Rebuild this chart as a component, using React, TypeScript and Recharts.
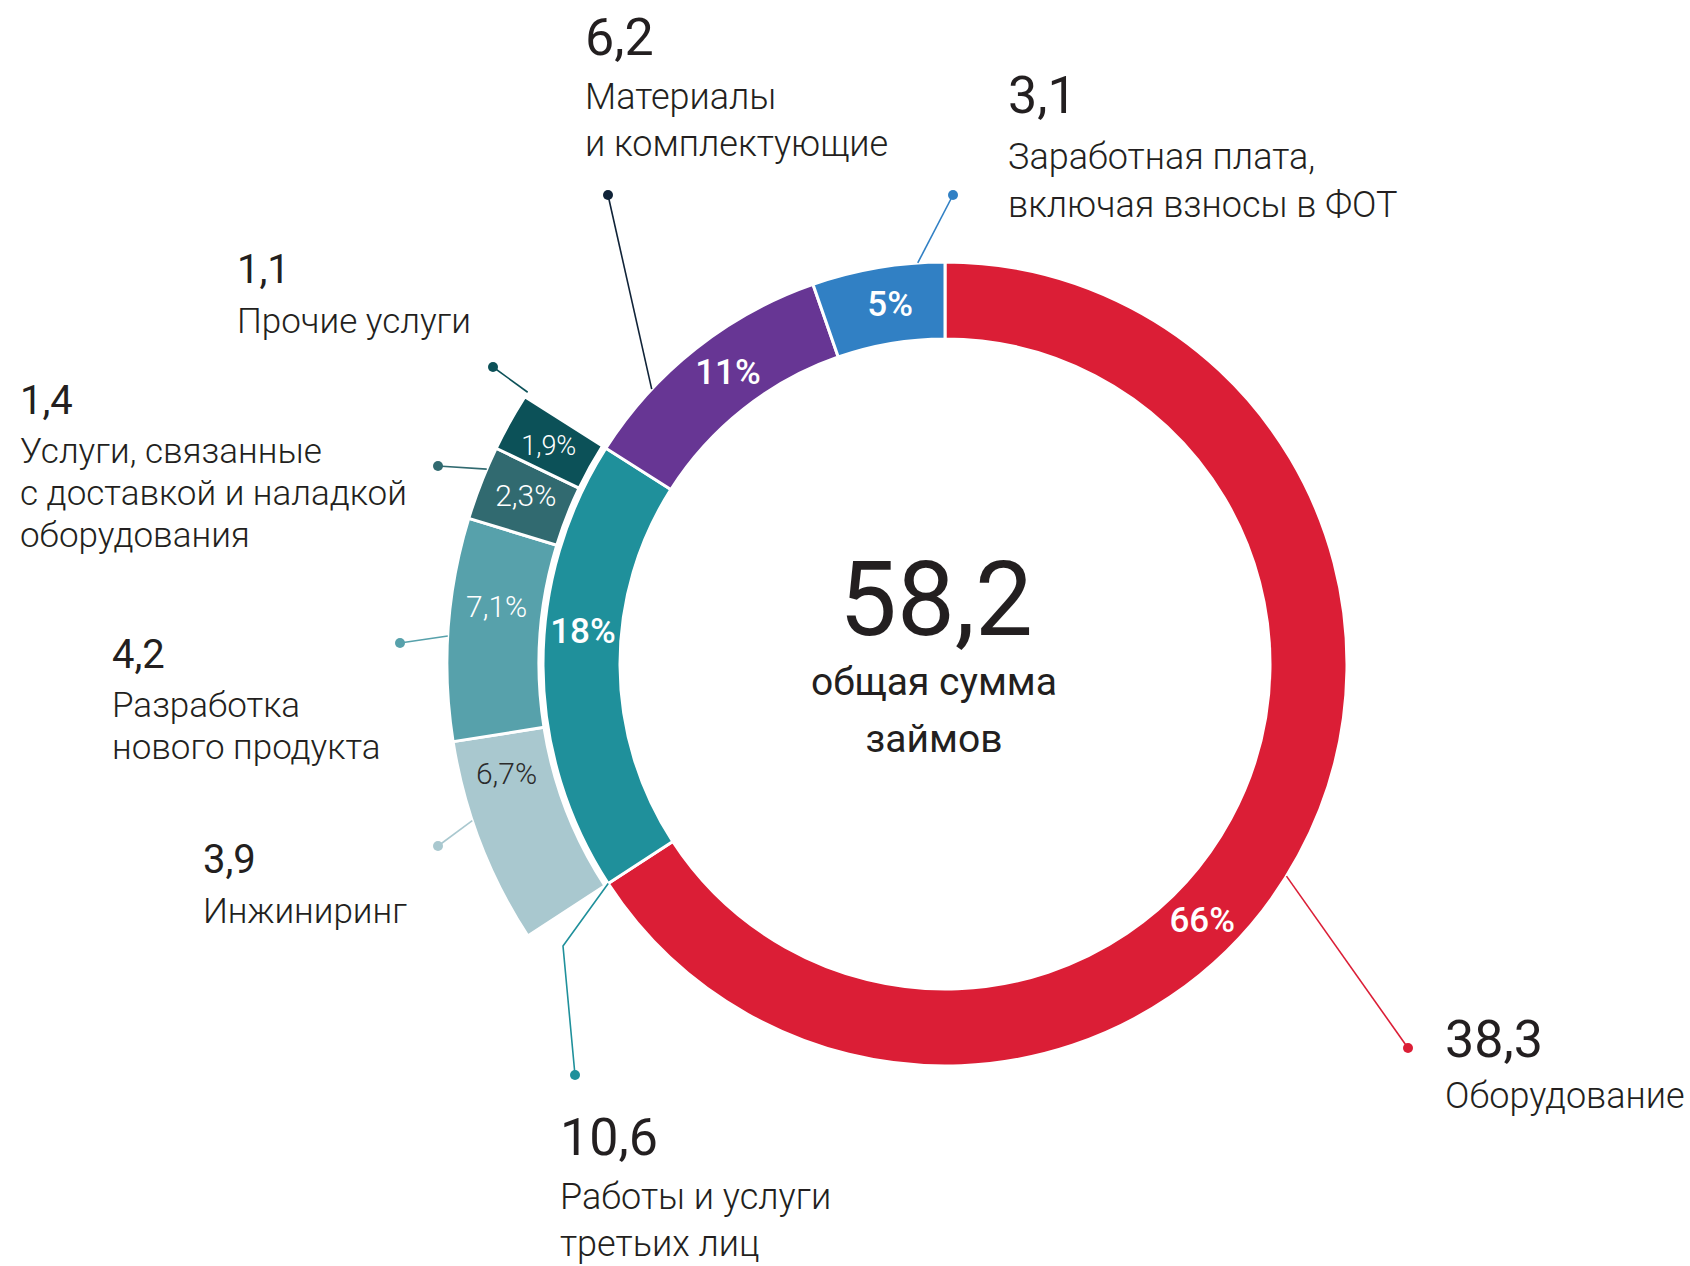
import React from 'react';
import { PieChart, Pie, Cell } from 'recharts';

// ---- data ----
const mainCategories = ['Оборудование', 'Работы и услуги третьих лиц', 'Материалы и комплектующие', 'Заработная плата, включая взносы в ФОТ'];
const mainValues = [38.3, 10.6, 6.2, 3.1];
const mainPctLabels = ['66%', '18%', '11%', '5%'];
const mainLabelLines = [
  ['Оборудование'],
  ['Работы и услуги', 'третьих лиц'],
  ['Материалы', 'и комплектующие'],
  ['Заработная плата,', 'включая взносы в ФОТ'],
];

const subCategories = ['Инжиниринг', 'Разработка нового продукта', 'Услуги, связанные с доставкой и наладкой оборудования', 'Прочие услуги'];
const subValues = [3.9, 4.2, 1.4, 1.1];
const subPctLabels = ['6,7%', '7,1%', '2,3%', '1,9%'];
const subLabelLines = [
  ['Инжиниринг'],
  ['Разработка', 'нового продукта'],
  ['Услуги, связанные', 'с доставкой и наладкой', 'оборудования'],
  ['Прочие услуги'],
];
const centerCaption = ['общая сумма', 'займов'];
const breakdownIndex = 1; // sub ring details "Работы и услуги третьих лиц"

// ---- styles / layout ----
const mainColors = ['#db1e36', '#1f909b', '#673694', '#3180c4'];
const mainLineColors = ['#db1e36', '#1f909b', '#102338', '#3180c4'];
const subColors = ['#a9c8cf', '#57a1ab', '#316a70', '#0c5158'];
const subPctColors = ['#2b2b2b', '#ffffff', '#ffffff', '#ffffff'];
const TEXT = '#231f20';
const FONT = 'Roboto, sans-serif';

const W = 1690;
const H = 1266;
const CX = 945;
const CY = 664;

type Layout = {
  anchor: 'mid' | 'start';
  angleDelta: number;
  pctDelta: number;
  bend?: [number, number];
  dot: [number, number];
  numX: number;
  numY: number;
  textY: number;
  lineH: number;
};

const mainLayout: Layout[] = [
  { anchor: 'mid', angleDelta: -3.4, pctDelta: -16.5, dot: [1408, 1048], numX: 1445, numY: 1057, textY: 1108, lineH: 48 },
  { anchor: 'start', angleDelta: 0, pctDelta: -5.5, bend: [563, 946], dot: [575, 1075], numX: 560, numY: 1155, textY: 1209, lineH: 47 },
  { anchor: 'mid', angleDelta: 8.5, pctDelta: -1.7, dot: [608, 195], numX: 585, numY: 55, textY: 109, lineH: 47 },
  { anchor: 'mid', angleDelta: -5.7, pctDelta: -0.9, dot: [953, 195], numX: 1008, numY: 113, textY: 169, lineH: 48 },
];
const subLayout: Layout[] = [
  { anchor: 'mid', angleDelta: -2.7, pctDelta: -7, dot: [438, 846], numX: 203, numY: 873, textY: 923, lineH: 42 },
  { anchor: 'mid', angleDelta: 0.8, pctDelta: -3.3, dot: [400, 643], numX: 112, numY: 668, textY: 717, lineH: 42 },
  { anchor: 'mid', angleDelta: -1.7, pctDelta: -0.6, dot: [438, 466], numX: 20, numY: 414, textY: 463, lineH: 42 },
  { anchor: 'mid', angleDelta: -4, pctDelta: 0.3, dot: [493, 367], numX: 237, numY: 283, textY: 333, lineH: 42 },
];

const RAD = Math.PI / 180;
const polar = (cx: number, cy: number, r: number, a: number): [number, number] => [
  cx + r * Math.cos(-a * RAD),
  cy + r * Math.sin(-a * RAD),
];
const fmt = (v: number) => String(v).replace('.', ',');

const total = mainValues.reduce((s, v) => s + v, 0);
const mainData = mainCategories.map((name, i) => ({ name, value: mainValues[i] }));
const subData = subCategories.map((name, i) => ({ name, value: subValues[i] }));

const before = mainValues.slice(0, breakdownIndex).reduce((s, v) => s + v, 0);
const subStart = 90 - (360 * before) / total;
const subEnd = subStart - (360 * mainValues[breakdownIndex]) / total;

function Callout(p: any, L: Layout, color: string, value: number, lines: string[], numSize: number, textSize: number) {
  const a = (L.anchor === 'start' ? p.startAngle : p.midAngle) + L.angleDelta;
  const [ax, ay] = polar(p.cx, p.cy, p.outerRadius, a);
  const pts = [[ax, ay], ...(L.bend ? [L.bend] : []), L.dot].map((q) => q.join(',')).join(' ');
  return (
    <g>
      <polyline points={pts} fill="none" stroke={color} strokeWidth={1.6} />
      <circle cx={L.dot[0]} cy={L.dot[1]} r={5} fill={color} />
      <text x={L.numX} y={L.numY} fontFamily={FONT} fontSize={numSize} fontWeight={400} fill={TEXT}>
        {fmt(value)}
      </text>
      {lines.map((ln, k) => (
        <text key={k} x={L.numX} y={L.textY + k * L.lineH} fontFamily={FONT} fontSize={textSize} fontWeight={300} fill={TEXT}>
          {ln}
        </text>
      ))}
    </g>
  );
}

const renderMainLabel = (p: any) => {
  const i = p.index;
  const L = mainLayout[i];
  const [px, py] = polar(p.cx, p.cy, (p.innerRadius + p.outerRadius) / 2, p.midAngle + L.pctDelta);
  return (
    <g key={`ml-${i}`}>
      {Callout(p, L, mainLineColors[i], mainValues[i], mainLabelLines[i], 52, 36)}
      <text x={px} y={py} textAnchor="middle" dominantBaseline="central" fontFamily={FONT} fontSize={35} fontWeight={500} fill="#ffffff">
        {mainPctLabels[i]}
      </text>
      {i === 0 && (
        <g>
          <text x={p.cx - 9} y={p.cy - 29} textAnchor="middle" fontFamily={FONT} fontSize={103} fontWeight={400} fill={TEXT}>
            {fmt(total)}
          </text>
          {centerCaption.map((c, k) => (
            <text key={k} x={p.cx - 11} y={p.cy + 31 + k * 57} textAnchor="middle" fontFamily={FONT} fontSize={39} fontWeight={400} fill={TEXT}>
              {c}
            </text>
          ))}
        </g>
      )}
    </g>
  );
};

const renderSubLabel = (p: any) => {
  const i = p.index;
  const L = subLayout[i];
  const [px, py] = polar(p.cx, p.cy, (p.innerRadius + p.outerRadius) / 2, p.midAngle + L.pctDelta);
  return (
    <g key={`sl-${i}`}>
      {Callout(p, L, subColors[i], subValues[i], subLabelLines[i], 40, 35)}
      <text x={px} y={py} textAnchor="middle" dominantBaseline="central" fontFamily={FONT} fontSize={i === 3 ? 27 : 30} fontWeight={300} fill={subPctColors[i]}>
        {subPctLabels[i]}
      </text>
    </g>
  );
};

export default function App() {
  return (
    <div style={{ position: 'absolute', left: 0, top: 0, width: W, height: H, background: '#ffffff' }}>
      <PieChart width={W} height={H} margin={{ top: 0, right: 0, bottom: 0, left: 0 }}>
        <Pie
          data={mainData}
          dataKey="value"
          cx={CX}
          cy={CY}
          innerRadius={325}
          outerRadius={402}
          startAngle={90}
          endAngle={-270}
          stroke="#ffffff"
          strokeWidth={3}
          label={renderMainLabel}
          labelLine={false}
          isAnimationActive={false}
        >
          {mainData.map((d, i) => (
            <Cell key={d.name} fill={mainColors[i]} />
          ))}
        </Pie>
        <Pie
          data={subData}
          dataKey="value"
          cx={CX}
          cy={CY}
          innerRadius={406}
          outerRadius={498}
          startAngle={subStart}
          endAngle={subEnd}
          stroke="#ffffff"
          strokeWidth={3}
          label={renderSubLabel}
          labelLine={false}
          isAnimationActive={false}
        >
          {subData.map((d, i) => (
            <Cell key={d.name} fill={subColors[i]} />
          ))}
        </Pie>
      </PieChart>
    </div>
  );
}
